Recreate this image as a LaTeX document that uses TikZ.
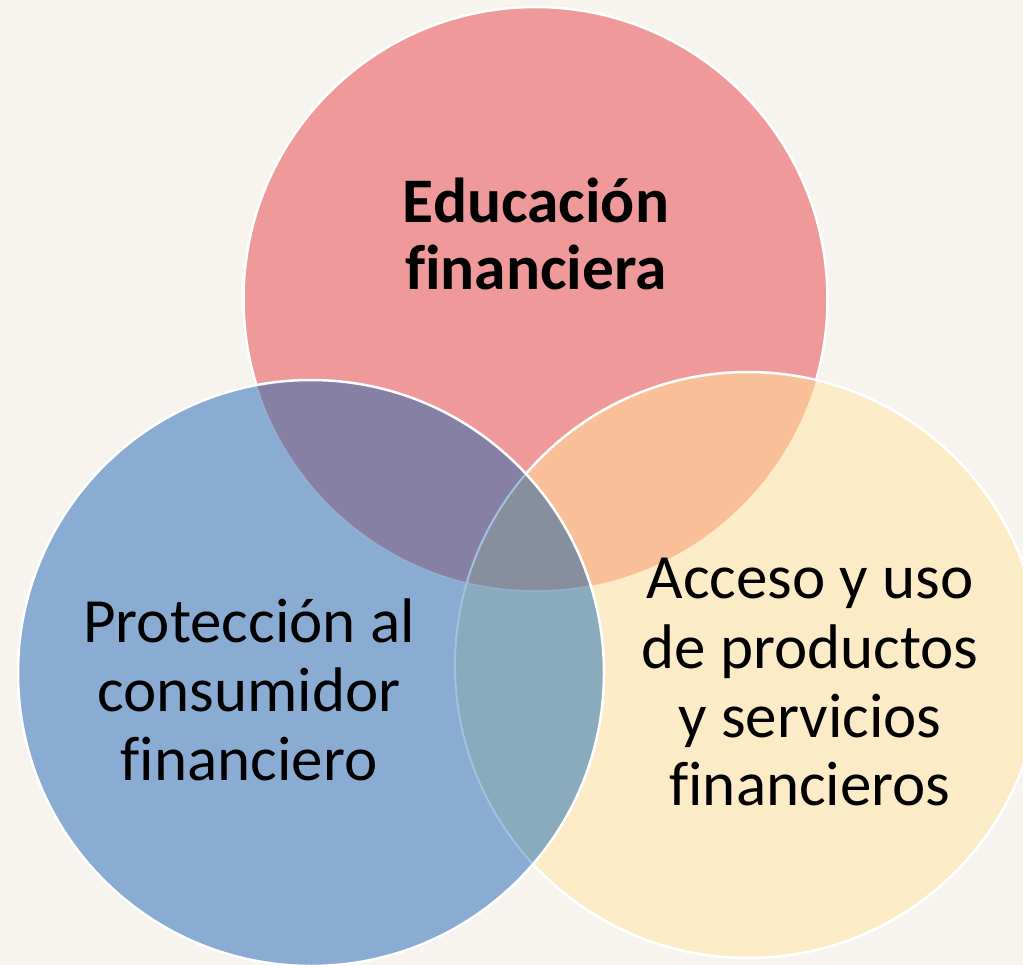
\documentclass[tikz,border=0pt]{standalone}
\usepackage{fontspec}
\setmainfont{Carlito}[Ligatures=NoCommon]
\definecolor{bgc}{HTML}{F7F4F0}
\definecolor{redc}{HTML}{F0999B}
\definecolor{bluc}{HTML}{8AACD3}
\definecolor{yelc}{HTML}{FBECC7}
\definecolor{ryc}{HTML}{F8BF98}
\definecolor{rbc}{HTML}{8680A5}
\definecolor{byc}{HTML}{8AAABD}
\definecolor{allc}{HTML}{878F9F}
\definecolor{edgec}{HTML}{A3C0E0}
\begin{document}
\begin{tikzpicture}[x=1pt,y=-1pt,
  lbl/.style={font=\fontsize{63}{69}\selectfont, anchor=base, inner sep=0pt},
  blbl/.style={anchor=base, inner sep=0pt, font=\fontsize{63.5}{67}\selectfont\bfseries},
  ring/.style={draw=white, line width=2.5pt}]
\fill[bgc] (0,0) rectangle (1023,965);
\useasboundingbox (0,0) rectangle (1023,965);
% red circle
\fill[redc] (535.5,299) circle[radius=292pt];
\draw[ring] (535.5,299) circle[radius=292pt];
% yellow circle
\fill[yelc] (748,665) circle[radius=293pt];
\begin{scope}
  \clip (535.5,299) circle[radius=292pt];
  \fill[ryc] (748,665) circle[radius=293pt];
\end{scope}
\draw[ring] (748,665) circle[radius=293pt];
% blue circle
\fill[bluc] (311,673) circle[radius=293pt];
\begin{scope}
  \clip (311,673) circle[radius=293pt];
  \fill[rbc] (535.5,299) circle[radius=292pt];
  \fill[byc] (748,665) circle[radius=293pt];
  \begin{scope}
    \clip (535.5,299) circle[radius=292pt];
    \fill[allc] (748,665) circle[radius=293pt];
  \end{scope}
  \draw[edgec, line width=2pt] (748,665) circle[radius=293pt];
  \draw[edgec, opacity=0.5, line width=1.5pt] (535.5,299) circle[radius=292pt];
\end{scope}
\draw[ring] (311,673) circle[radius=293pt];
% labels
\node[blbl] (e1) at (536,223) {Educación};
\node[blbl] (e2) at (536,290) {financiera};
\node[lbl] (p1) at (249,642) {Protección al};
\node[lbl] (p2) at (249,711) {consumidor};
\node[lbl] (p3) at (249,780) {financiero};
\node[lbl] (a1) at (810,598) {Acceso y uso};
\node[lbl] (a2) at (810,668) {de productos};
\node[lbl] (a3) at (810,737) {y servicios};
\node[lbl] (a4) at (810,805) {financieros};
\end{tikzpicture}
\end{document}
